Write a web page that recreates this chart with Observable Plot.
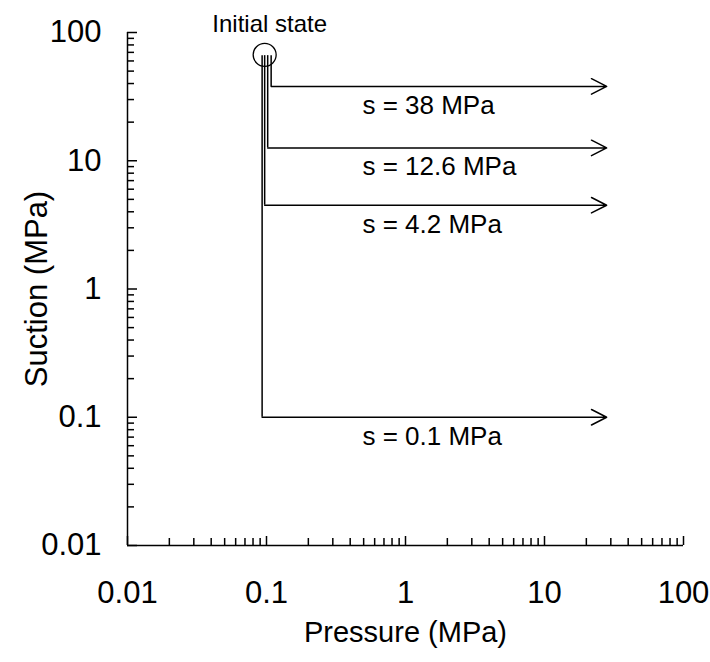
<!DOCTYPE html>
<html><head><meta charset="utf-8">
<script src="https://cdn.jsdelivr.net/npm/d3@7"></script>
<script src="https://cdn.jsdelivr.net/npm/@observablehq/plot@0.6"></script>
<style>body{margin:0;background:#fff;} #chart svg{display:block;}</style>
</head><body><div id="chart"></div>
<script>
// ---- data ----
const suctionLevels = [38, 12.6, 4.5, 0.1];            // MPa, horizontal paths
const suctionLabels = ["s = 38 MPa", "s = 12.6 MPa", "s = 4.2 MPa", "s = 0.1 MPa"];
const startPressure = [0.108, 0.102, 0.097, 0.093];    // MPa, vertical legs (offset for legibility)
const initialSuction = 66;                             // MPa, top of vertical legs
const endPressure = 28;                                // MPa, arrow tips
const labelPressure = 0.49;                            // MPa, left edge of path labels
const initialState = [{p: 0.097, s: 67, name: "Initial state"}];
const majorTicks = [0.01, 0.1, 1, 10, 100];
const tickLabels = ["0.01", "0.1", "1", "10", "100"];
const minorMultipliers = [2, 3, 4, 5, 6, 7, 8, 9];
const decades = [0.01, 0.1, 1, 10];
const minorTicks = decades.flatMap(d => minorMultipliers.map(m => +(m * d).toPrecision(2)));

const paths = suctionLevels.map((s, i) => ({s, label: suctionLabels[i], x0: startPressure[i], top: initialSuction, end: endPressure, lx: labelPressure}));
const fmt = d => tickLabels[majorTicks.indexOf(d)];
const font = "'Liberation Sans', Arial, sans-serif";
const sw = 1.5;

const chart = Plot.plot({
  width: 710, height: 662,
  marginLeft: 127, marginRight: 27, marginTop: 32, marginBottom: 117,
  x: {type: "log", domain: [0.01, 100], label: null},
  y: {type: "log", domain: [0.01, 100], label: null},
  style: {fontFamily: font, fontSize: "24px", color: "#000", background: "#fff"},
  marks: [
    // axes
    Plot.axisX({ticks: minorTicks, tickSize: -7, tickFormat: () => "", label: null, strokeWidth: sw}),
    Plot.axisX({ticks: majorTicks, tickSize: -9, tickFormat: () => "", label: null, strokeWidth: sw}),
    Plot.axisX({ticks: majorTicks, tickSize: 0, tickPadding: 35, tickFormat: fmt, label: null, fontSize: 31}),
    Plot.axisY({ticks: minorTicks, tickSize: -7, tickFormat: () => "", label: null, strokeWidth: sw}),
    Plot.axisY({ticks: majorTicks, tickSize: -10, tickFormat: () => "", label: null, strokeWidth: sw}),
    Plot.axisY({ticks: majorTicks, tickSize: 0, tickPadding: 26, tickFormat: fmt, label: null, fontSize: 31}),
    Plot.ruleY([0.01], {strokeWidth: sw}),
    Plot.ruleX([0.01], {strokeWidth: sw}),
    Plot.text(["Pressure (MPa)"], {frameAnchor: "bottom", dy: 96, fontSize: 29}),
    Plot.text(["Suction (MPa)"], {frameAnchor: "left", textAnchor: "middle", dx: -90, rotate: -90, fontSize: 31}),
    // stress paths
    Plot.ruleX(paths, {x: "x0", y1: "top", y2: "s", strokeWidth: sw}),
    Plot.arrow(paths, {x1: "x0", x2: "end", y1: "s", y2: "s", headLength: 17, headAngle: 54, strokeWidth: sw}),
    Plot.text(paths, {x: "lx", y: "s", text: "label", dy: 19, textAnchor: "start", fontSize: 26}),
    // initial state
    Plot.dot(initialState, {x: "p", y: "s", r: 11.5, stroke: "black", fill: "none", strokeWidth: 1.3}),
    Plot.text(initialState, {x: "p", y: "s", text: "name", dy: -30, dx: 5, fontSize: 24})
  ]
});
document.getElementById("chart").append(chart);
</script>
</body></html>
